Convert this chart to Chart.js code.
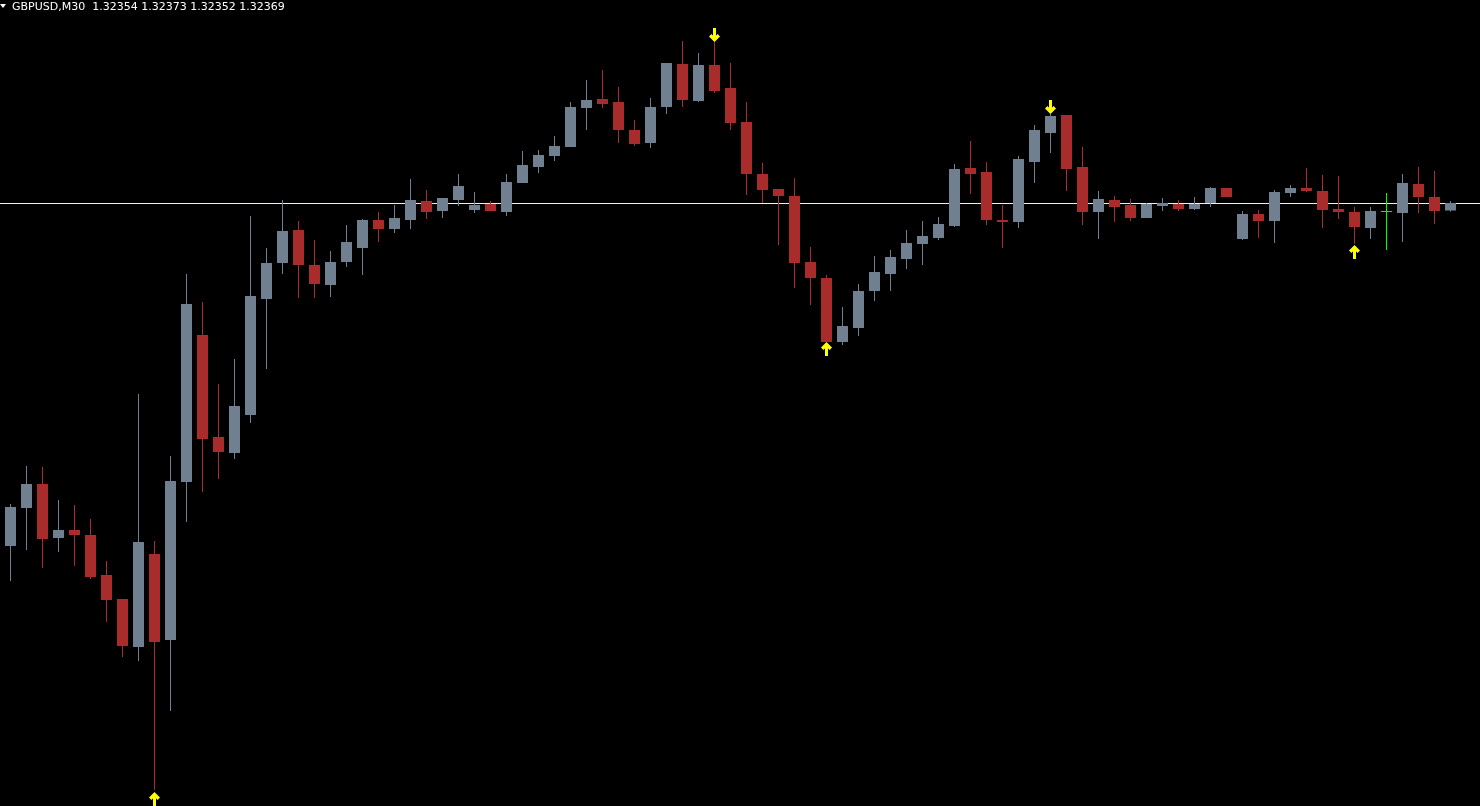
<!DOCTYPE html>
<html>
<head>
<meta charset="utf-8">
<title>GBPUSD,M30</title>
<script src="https://cdn.jsdelivr.net/npm/chart.js@4.4.0/dist/chart.umd.min.js"></script>
<style>
  html, body { margin: 0; padding: 0; background: #000; overflow: hidden; }
  #wrap { position: relative; width: 1480px; height: 806px; }
  #myChart { display: block; }
  #caption {
    position: absolute; left: 12px; top: 0;
    font: 11px 'DejaVu Sans', sans-serif; line-height: 13px;
    color: #fff; white-space: pre;
  }
  #tri {
    position: absolute; left: 0; top: 4px; width: 0; height: 0;
    border-left: 3px solid transparent; border-right: 3px solid transparent;
    border-top: 4px solid #fff;
  }
</style>
</head>
<body>
<div id="wrap">
  <canvas id="myChart" width="1480" height="806"></canvas>
  <div id="tri"></div>
  <div id="caption">GBPUSD,M30  1.32354 1.32373 1.32352 1.32369</div>
</div>
<script>
// candle data, oldest first (M30 bars)
const opens = [
  1.31683, 1.31759, 1.31807, 1.31699, 1.31715, 1.31705, 1.31625, 1.31577, 1.31481, 1.31667,
  1.31495, 1.31811, 1.32105, 1.31901, 1.31869, 1.31945, 1.32177, 1.32249, 1.32315, 1.32245,
  1.32205, 1.32251, 1.32279, 1.32335, 1.32317, 1.32335, 1.32373, 1.32353, 1.32375, 1.32355,
  1.32367, 1.32351, 1.32409, 1.32441, 1.32463, 1.32481, 1.32559, 1.32577, 1.32571, 1.32515,
  1.32489, 1.32561, 1.32647, 1.32573, 1.32645, 1.32599, 1.32531, 1.32427, 1.32397, 1.32383,
  1.32251, 1.32219, 1.32091, 1.32119, 1.32193, 1.32227, 1.32257, 1.32287, 1.32299, 1.32323,
  1.32439, 1.32431, 1.32335, 1.32331, 1.32451, 1.32509, 1.32545, 1.32441, 1.32351, 1.32375,
  1.32365, 1.32339, 1.32363, 1.32367, 1.32357, 1.32369, 1.32399, 1.32297, 1.32347, 1.32333,
  1.32389, 1.32399, 1.32393, 1.32357, 1.32351, 1.32319, 1.32351, 1.32349, 1.32407, 1.32381,
  1.32354,
]
const highs = [
  1.31767, 1.31843, 1.31841, 1.31775, 1.31765, 1.31737, 1.31653, 1.31577, 1.31987, 1.31693,
  1.31863, 1.32227, 1.32171, 1.32007, 1.32057, 1.32343, 1.32279, 1.32375, 1.32333, 1.32295,
  1.32273, 1.32325, 1.32337, 1.32351, 1.32365, 1.32417, 1.32395, 1.32379, 1.32427, 1.32391,
  1.32373, 1.32427, 1.32473, 1.32475, 1.32503, 1.32571, 1.32615, 1.32635, 1.32601, 1.32535,
  1.32579, 1.32649, 1.32693, 1.32669, 1.32691, 1.32649, 1.32571, 1.32449, 1.32397, 1.32419,
  1.32281, 1.32225, 1.32161, 1.32207, 1.32263, 1.32275, 1.32315, 1.32333, 1.32341, 1.32447,
  1.32493, 1.32451, 1.32365, 1.32463, 1.32525, 1.32547, 1.32545, 1.32481, 1.32393, 1.32383,
  1.32377, 1.32369, 1.32379, 1.32375, 1.32381, 1.32401, 1.32399, 1.32353, 1.32355, 1.32395,
  1.32405, 1.32439, 1.32425, 1.32423, 1.32361, 1.32361, 1.32389, 1.32427, 1.32441, 1.32433,
  1.32373,
]
const lows = [
  1.31613, 1.31675, 1.31639, 1.31671, 1.31643, 1.31617, 1.31531, 1.31461, 1.31453, 1.31195,
  1.31353, 1.31731, 1.31791, 1.31817, 1.31857, 1.31929, 1.32037, 1.32227, 1.32179, 1.32179,
  1.32181, 1.32241, 1.32225, 1.32291, 1.32309, 1.32317, 1.32337, 1.32339, 1.32363, 1.32349,
  1.32353, 1.32343, 1.32409, 1.32429, 1.32453, 1.32481, 1.32515, 1.32559, 1.32489, 1.32483,
  1.32479, 1.32547, 1.32561, 1.32571, 1.32589, 1.32515, 1.32385, 1.32369, 1.32285, 1.32199,
  1.32165, 1.32091, 1.32085, 1.32103, 1.32173, 1.32193, 1.32237, 1.32245, 1.32295, 1.32321,
  1.32387, 1.32325, 1.32279, 1.32319, 1.32409, 1.32469, 1.32393, 1.32325, 1.32297, 1.32331,
  1.32333, 1.32339, 1.32353, 1.32353, 1.32355, 1.32361, 1.32381, 1.32295, 1.32299, 1.32289,
  1.32381, 1.32391, 1.32319, 1.32337, 1.32287, 1.32297, 1.32275, 1.32291, 1.32349, 1.32327,
  1.32352,
]
const closes = [
  1.31761, 1.31807, 1.31697, 1.31715, 1.31705, 1.31621, 1.31575, 1.31483, 1.31691, 1.31491,
  1.31813, 1.32167, 1.31897, 1.31871, 1.31963, 1.32183, 1.32249, 1.32313, 1.32245, 1.32207,
  1.32251, 1.32291, 1.32335, 1.32317, 1.32339, 1.32375, 1.32351, 1.32379, 1.32403, 1.32365,
  1.32353, 1.32411, 1.32445, 1.32465, 1.32483, 1.32561, 1.32575, 1.32567, 1.32515, 1.32487,
  1.32561, 1.32649, 1.32575, 1.32645, 1.32593, 1.32529, 1.32427, 1.32395, 1.32383, 1.32249,
  1.32219, 1.32091, 1.32123, 1.32193, 1.32231, 1.32261, 1.32289, 1.32303, 1.32327, 1.32437,
  1.32427, 1.32335, 1.32331, 1.32457, 1.32515, 1.32543, 1.32437, 1.32351, 1.32377, 1.32361,
  1.32339, 1.32367, 1.32369, 1.32357, 1.32367, 1.32399, 1.32381, 1.32347, 1.32333, 1.32391,
  1.32399, 1.32393, 1.32355, 1.32351, 1.32321, 1.32353, 1.32351, 1.32409, 1.32381, 1.32353,
  1.32369,
]

// fractal-style signal arrows (bar index, price of arrow centre)
const upArrowBars = [9, 51, 84]
const upArrowPrices = [1.31177, 1.32077, 1.32271]
const downArrowBars = [44, 65]
const downArrowPrices = [1.32705, 1.32561]

const bidPrice = 1.32369
const priceMin = 1.31163
const priceMax = 1.32775

const BULL = '#708090'
const BEAR = '#A82C2C'
const DOJI = '#00FF00'

const idx = opens.map((_, i) => i)
const candleColor = idx.map(i =>
  closes[i] > opens[i] ? BULL : closes[i] < opens[i] ? BEAR : DOJI
)

function makeArrow(up) {
  const c = document.createElement('canvas')
  c.width = 11
  c.height = 14
  const g = c.getContext('2d')
  g.fillStyle = '#FFFF00'
  if (!up) {
    g.translate(0, 14)
    g.scale(1, -1)
  }
  // thick chevron head + shaft
  g.beginPath()
  g.moveTo(5.5, 0)
  g.lineTo(11, 5.5)
  g.lineTo(8.6, 7.9)
  g.lineTo(5.5, 4.8)
  g.lineTo(2.4, 7.9)
  g.lineTo(0, 5.5)
  g.closePath()
  g.fill()
  g.fillRect(4, 3, 3, 11)
  return c
}

// bid line behind the candles
const bidLine = {
  id: 'bidLine',
  beforeDatasetsDraw(chart) {
    const { ctx, chartArea, scales } = chart
    const y = Math.round(scales.y.getPixelForValue(bidPrice)) + 0.5
    ctx.save()
    ctx.strokeStyle = '#F0F0F0'
    ctx.lineWidth = 1
    ctx.beginPath()
    ctx.moveTo(chartArea.left, y)
    ctx.lineTo(chartArea.right, y)
    ctx.stroke()
    ctx.restore()
  },
}

const ctx = document.getElementById('myChart').getContext('2d')
const myChart = new Chart(ctx, {
  type: 'bar',
  data: {
    datasets: [
      {
        type: 'scatter',
        data: upArrowBars.map((b, k) => ({ x: b, y: upArrowPrices[k] })),
        pointStyle: makeArrow(true),
        order: 0,
      },
      {
        type: 'scatter',
        data: downArrowBars.map((b, k) => ({ x: b, y: downArrowPrices[k] })),
        pointStyle: makeArrow(false),
        order: 0,
      },
      {
        // bodies
        data: idx.map(i => ({ x: i, y: [opens[i], closes[i]] })),
        backgroundColor: candleColor,
        barThickness: 11,
        minBarLength: 1,
        grouped: false,
        inflateAmount: 0,
        borderWidth: 0,
        order: 1,
      },
      {
        // wicks
        data: idx.map(i => ({ x: i, y: [lows[i], highs[i]] })),
        backgroundColor: candleColor,
        barThickness: 1,
        grouped: false,
        inflateAmount: 0,
        borderWidth: 0,
        order: 2,
      },
    ],
  },
  options: {
    responsive: false,
    animation: false,
    devicePixelRatio: 1,
    layout: { padding: 0, autoPadding: false },
    plugins: {
      legend: { display: false },
      tooltip: { enabled: false },
    },
    scales: {
      x: {
        type: 'linear',
        display: false,
        offset: false,
        min: -0.65625,
        max: 91.84375,
      },
      y: {
        type: 'linear',
        display: false,
        min: priceMin,
        max: priceMax,
      },
    },
  },
  plugins: [bidLine],
})
</script>
</body>
</html>
